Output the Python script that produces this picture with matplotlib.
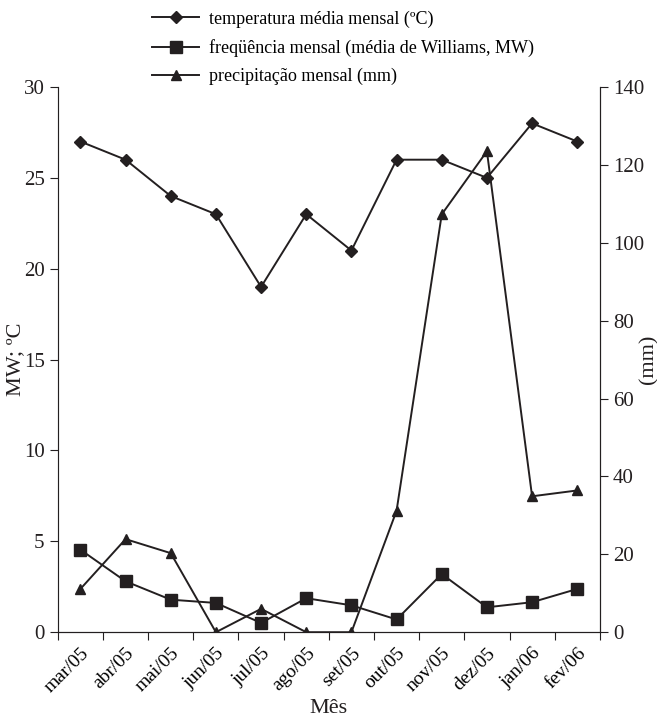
import numpy as np
import matplotlib.pyplot as plt
from matplotlib.ticker import FixedLocator, NullFormatter

# valores
meses = ['mar/05', 'abr/05', 'mai/05', 'jun/05', 'jul/05', 'ago/05',
         'set/05', 'out/05', 'nov/05', 'dez/05', 'jan/06', 'fev/06']
temperatura = [27, 26, 24, 23, 19, 23, 21, 26, 26, 25, 28, 27]
frequencia_mw = [4.54, 2.8, 1.79, 1.61, 0.51, 1.87, 1.48, 0.7, 3.2, 1.37, 1.65, 2.38]
precipitacao = [11.1, 23.9, 20.3, 0, 6.0, 0, 0, 31.2, 107.3, 123.5, 34.9, 36.4]

plt.rcParams['font.family'] = ['Liberation Serif', 'DejaVu Serif']
plt.rcParams['font.size'] = 14
ink = '#231f20'

fig, ax = plt.subplots(figsize=(6.57, 7.25), dpi=100)
fig.subplots_adjust(left=0.088, right=0.913, top=0.88, bottom=0.128)
ax2 = ax.twinx()

x = np.arange(len(meses))
l1, = ax.plot(x, temperatura, color=ink, lw=1.4, marker='D', ms=6,
              label='temperatura média mensal (ºC)')
l2, = ax.plot(x, frequencia_mw, color=ink, lw=1.4, marker='s', ms=8,
              label='freqüência mensal (média de Williams, MW)')
l3, = ax2.plot(x, precipitacao, color=ink, lw=1.4, marker='^', ms=7,
               label='precipitação mensal (mm)')

ax.set_xlim(-0.5, len(meses) - 0.5)
ax.set_ylim(0, 30)
ax.set_yticks(np.arange(0, 31, 5))
ax2.set_ylim(0, 140)
ax2.set_yticks(np.arange(0, 141, 20))

# ticks nas divisões das categorias, rótulos no centro
ax.xaxis.set_major_locator(FixedLocator(np.arange(-0.5, len(meses), 1.0)))
ax.xaxis.set_major_formatter(NullFormatter())
ax.xaxis.set_minor_locator(FixedLocator(x))
ax.set_xticklabels(meses, minor=True, rotation=45, ha='right',
                   rotation_mode='anchor', fontsize=14)
ax.tick_params(axis='x', which='major', length=6, direction='out', color=ink)
ax.tick_params(axis='x', which='minor', length=0, pad=9)
ax.tick_params(axis='y', length=6, direction='out', color=ink, labelcolor=ink,
               labelsize=15)
ax2.tick_params(axis='y', length=6, direction='out', color=ink, labelcolor=ink,
                labelsize=15)

for a in (ax, ax2):
    a.spines['top'].set_visible(False)
    for s in ('left', 'right', 'bottom'):
        a.spines[s].set_color(ink)
ax.spines['left'].set_color('#8a8a8a')

# títulos dos eixos
fig.text(0.50, 0.023, 'Mês', fontsize=16, color=ink, ha='center', va='center')
fig.text(0.024, 0.505, 'MW; ºC', fontsize=16, color=ink, rotation=90,
         ha='center', va='center')
fig.text(0.987, 0.505, '(mm)', fontsize=16, color=ink, rotation=90,
         ha='center', va='center')

fig.legend(handles=[l1, l2, l3], loc='upper left', bbox_to_anchor=(0.207, 1.008),
           frameon=False, handlelength=2.6, labelspacing=0.62, handletextpad=0.55,
           fontsize=13)

plt.savefig('out.png', dpi=100)
